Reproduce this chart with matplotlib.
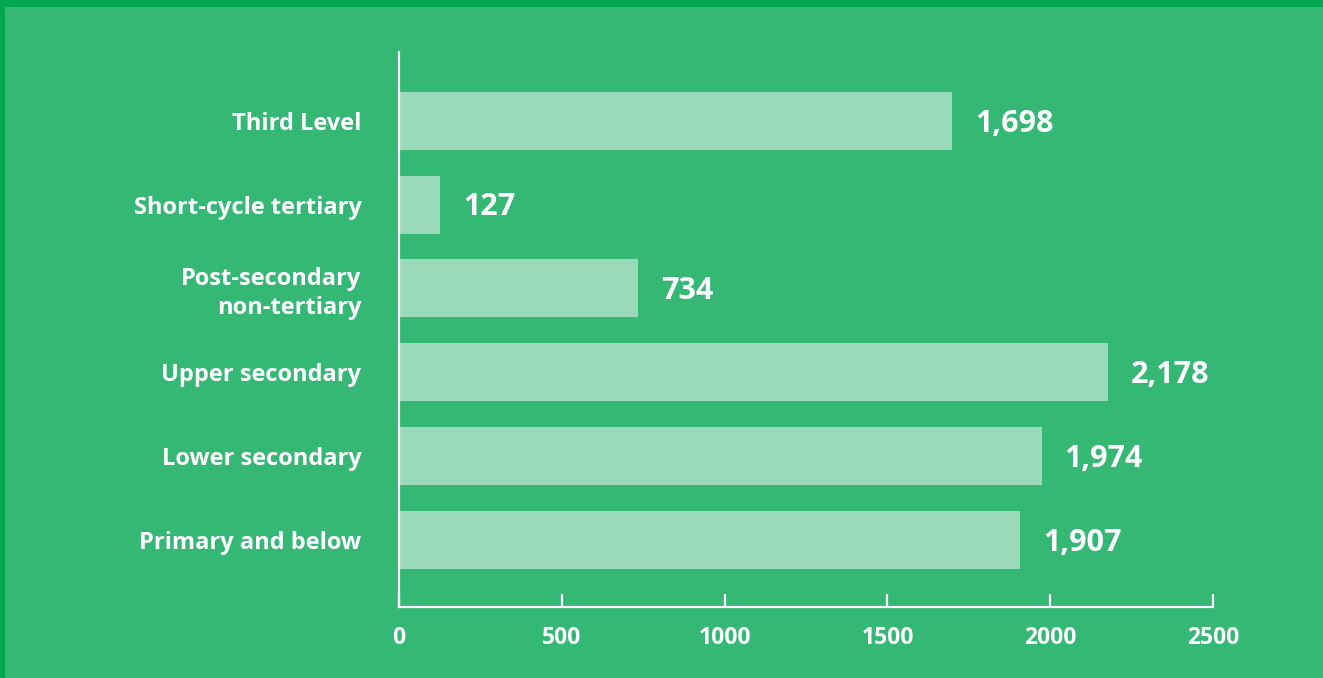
import matplotlib.pyplot as plt
import matplotlib.patches as mpatches

categories = ['Primary and below', 'Lower secondary', 'Upper secondary',
              'Post-secondary\nnon-tertiary', 'Short-cycle tertiary', 'Third Level']
values = [1907, 1974, 2178, 734, 127, 1698]
xticks = [0, 500, 1000, 1500, 2000, 2500]

bg = '#34b874'
border = '#00a650'
bar_color = '#9bdab9'

plt.rcParams['font.family'] = ['Open Sans', 'DejaVu Sans']

fig = plt.figure(figsize=(13.23, 6.78), dpi=100)
fig.patch.set_facecolor(border)
# lighter panel, leaving a dark strip on top and left
panel = mpatches.Rectangle((5 / 1323, 0), 1, 1 - 7 / 678,
                           transform=fig.transFigure, fc=bg, ec='none', zorder=-10)
fig.add_artist(panel)

ax = fig.add_axes([399 / 1323, 1 - 607 / 678, 814 / 1323, 555 / 678])
ax.set_zorder(5)
ax.set_facecolor('none')

y = list(range(len(categories)))
ax.barh(y, values, height=0.69, color=bar_color, zorder=2)
for yi, v in zip(y, values):
    ax.annotate(f'{v:,}', (v, yi), xytext=(16.5, -2), textcoords='offset points',
                va='center', ha='left', color='white', fontsize=22, fontweight='bold')

ax.set_xlim(0, 2500)
ax.set_ylim(-0.8, 5.82)
ax.set_xticks(xticks)
ax.set_xticklabels([str(t) for t in xticks])
ax.set_yticks(y)
ax.set_yticklabels(categories, ha='right', linespacing=1.25)

for side in ['top', 'right']:
    ax.spines[side].set_visible(False)
for side in ['left', 'bottom']:
    ax.spines[side].set_color('white')
    ax.spines[side].set_linewidth(1.6)

ax.tick_params(axis='x', direction='in', length=9.5, width=1.6, color='white',
               labelcolor='white', labelsize=16.5, pad=14)
ax.tick_params(axis='y', length=0, labelcolor='white', labelsize=17, pad=27)
for lbl in ax.get_xticklabels() + ax.get_yticklabels():
    lbl.set_fontweight('bold')

fig.savefig('out.png', dpi=100, facecolor=fig.get_facecolor())
